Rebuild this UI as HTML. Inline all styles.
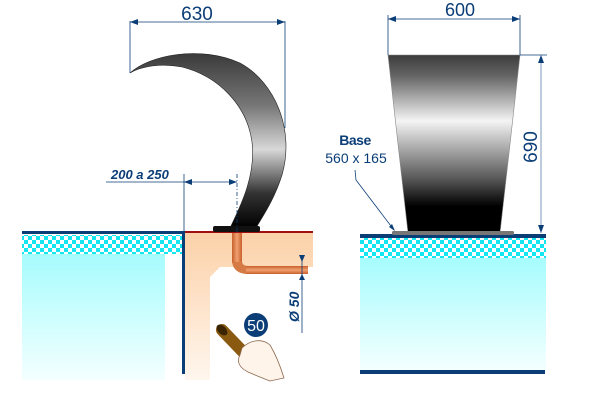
<!DOCTYPE html>
<html><head><meta charset="utf-8"><style>
html,body{margin:0;padding:0;background:#fff;}
svg{display:block;}
text{font-family:"Liberation Sans",sans-serif;fill:#0b3d77;}
</style></head><body>
<svg width="600" height="400" viewBox="0 0 600 400" xmlns="http://www.w3.org/2000/svg">
<defs>
<pattern id="chk" x="0" y="0" width="8" height="8" patternUnits="userSpaceOnUse">
<rect width="8" height="8" fill="#fff"/>
<rect width="4" height="4" fill="#14e6f2"/>
<rect x="4" y="4" width="4" height="4" fill="#14e6f2"/>
</pattern>
<linearGradient id="water" x1="0" y1="0" x2="0" y2="1">
<stop offset="0" stop-color="#a6fcfd"/><stop offset="1" stop-color="#f4ffff"/>
</linearGradient>
<linearGradient id="peach" x1="0" y1="0" x2="0" y2="1">
<stop offset="0" stop-color="#fcd1a8"/><stop offset="1" stop-color="#fff6ee"/>
</linearGradient>
<linearGradient id="cres" x1="0" y1="0" x2="0" y2="1">
<stop offset="0" stop-color="#3a3a3a"/><stop offset="0.3" stop-color="#777"/>
<stop offset="0.55" stop-color="#d8d8d8"/><stop offset="0.8" stop-color="#333"/><stop offset="1" stop-color="#000"/>
</linearGradient>
<linearGradient id="trap" x1="0" y1="0" x2="0" y2="1">
<stop offset="0" stop-color="#3c3c3c"/><stop offset="0.12" stop-color="#666"/>
<stop offset="0.37" stop-color="#f4f4f4"/><stop offset="0.7" stop-color="#555"/>
<stop offset="0.85" stop-color="#000"/><stop offset="1" stop-color="#000"/>
</linearGradient>
<linearGradient id="cop" x1="0" y1="0" x2="1" y2="0">
<stop offset="0" stop-color="#c8602c"/><stop offset="0.5" stop-color="#f0a070"/><stop offset="1" stop-color="#c8602c"/>
</linearGradient>
<linearGradient id="copH" x1="0" y1="0" x2="0" y2="1">
<stop offset="0" stop-color="#c8602c"/><stop offset="0.5" stop-color="#f0a070"/><stop offset="1" stop-color="#c8602c"/>
</linearGradient>
<marker id="ar" markerWidth="8" markerHeight="6" refX="8" refY="3" orient="auto" markerUnits="userSpaceOnUse">
<path d="M0,0 L8,3 L0,6 Z" fill="#0b3d77"/></marker>
<marker id="al" markerWidth="8" markerHeight="6" refX="0" refY="3" orient="auto" markerUnits="userSpaceOnUse">
<path d="M8,0 L0,3 L8,6 Z" fill="#0b3d77"/></marker>
</defs>

<rect x="22" y="235" width="161" height="19" fill="url(#chk)"/>
<rect x="22" y="254" width="143" height="126" fill="url(#water)"/>
<rect x="22" y="231" width="162" height="3" fill="#0b3d77"/>
<path d="M185,233 L313,233 L313,267 L220,267 L210,277 L210,380 L185,380 Z" fill="url(#peach)"/>
<rect x="185" y="231" width="128" height="2" fill="#a01010"/>
<rect x="182" y="231" width="3" height="143" fill="#0b3d77"/>
<rect x="232" y="233" width="10" height="30" fill="url(#cop)"/>
<path d="M232,262 L242,262 Q243,266 248,266 L248,274 Q234,274 232,262 Z" fill="#d57a45"/>
<rect x="246" y="266" width="62" height="8" fill="url(#copH)"/>
<path d="M130,73 C150,55 200,45 240,63 C275,82 295,130 282,175 C274,200 264,214 256,228 L230,228 C241,205 256,175 252,142 C247,105 218,76 182,67 C162,63 142,66 130,73 Z" fill="url(#cres)" stroke="#222" stroke-width="0.6"/>
<rect x="213" y="226" width="47" height="6" rx="2" fill="#111"/>
<line x1="130" y1="21" x2="130" y2="73" stroke="#0b3d77" stroke-width="0.8"/>
<line x1="285" y1="21" x2="285" y2="128" stroke="#0b3d77" stroke-width="0.8"/>
<line x1="130" y1="22" x2="285" y2="22" stroke="#0b3d77" stroke-width="0.8" marker-start="url(#al)" marker-end="url(#ar)"/>
<text x="197" y="20" font-size="19" text-anchor="middle">630</text>
<line x1="184" y1="174" x2="184" y2="232" stroke="#0b3d77" stroke-width="0.8"/>
<line x1="237" y1="174" x2="237" y2="232" stroke="#0b3d77" stroke-width="0.8" stroke-dasharray="4,2,1,2"/>
<line x1="106" y1="182" x2="184" y2="182" stroke="#0b3d77" stroke-width="0.8"/>
<line x1="184" y1="182" x2="237" y2="182" stroke="#0b3d77" stroke-width="0.8" marker-start="url(#al)" marker-end="url(#ar)"/>
<text x="111" y="179" font-size="13" font-weight="bold" font-style="italic">200 a 250</text>
<line x1="302" y1="255" x2="302" y2="333" stroke="#0b3d77" stroke-width="0.8"/>
<path d="M299,255 L302,262 L305,255 Z" fill="#0b3d77"/>
<path d="M299,280 L302,274 L305,280 Z" fill="#0b3d77"/>
<text transform="translate(299,322) rotate(-90)" font-size="14" font-weight="bold" font-style="italic">Ø 50</text>
<path d="M222,330 L246,355" stroke="#8a5a10" stroke-width="12" stroke-linecap="round"/>
<ellipse cx="222" cy="330" rx="4" ry="6.5" transform="rotate(-45 222 330)" fill="#3a2500"/>
<path d="M242,348 C250,340 262,338 270,345 C276,355 280,365 284,378 L270,381 C262,378 255,375 248,372 C240,368 236,362 240,355 Z" fill="#fff4ea" stroke="#8a6a50" stroke-width="0.8"/>
<circle cx="256" cy="325" r="12" fill="#0b3d77"/>
<text x="256" y="331" font-size="16" text-anchor="middle" style="fill:#fff">50</text>

<rect x="360" y="238" width="186" height="20" fill="url(#chk)"/>
<rect x="360" y="258" width="186" height="112" fill="url(#water)"/>
<rect x="360" y="234" width="186" height="4" fill="#0b3d77"/>
<rect x="360" y="370" width="185" height="4" fill="#0b3d77"/>
<path d="M388,55 L520,55 L500,233 L408,233 Z" fill="url(#trap)" stroke="#888" stroke-width="0.6"/>
<rect x="392" y="231" width="122" height="4" rx="1.5" fill="#777"/>
<line x1="388" y1="15" x2="388" y2="55" stroke="#0b3d77" stroke-width="0.8"/>
<line x1="520" y1="15" x2="520" y2="55" stroke="#0b3d77" stroke-width="0.8"/>
<line x1="388" y1="19" x2="520" y2="19" stroke="#0b3d77" stroke-width="0.8" marker-start="url(#al)" marker-end="url(#ar)"/>
<text x="460" y="16" font-size="18" text-anchor="middle">600</text>
<line x1="520" y1="55" x2="547" y2="55" stroke="#0b3d77" stroke-width="0.8"/>
<line x1="541" y1="55" x2="541" y2="233" stroke="#7a9ab8" stroke-width="1" marker-start="url(#al)" marker-end="url(#ar)"/>
<text transform="translate(537,147) rotate(-90)" font-size="19" text-anchor="middle">690</text>
<text x="355" y="145" font-size="14" font-weight="bold" text-anchor="middle" letter-spacing="-0.5">Base</text>
<text x="356" y="163" font-size="14" text-anchor="middle">560 x 165</text>
<polyline points="355,170 356,180 394,230" fill="none" stroke="#0b3d77" stroke-width="0.8"/>
<path d="M389,227 L395,231 L392,224 Z" fill="#0b3d77"/>
</svg>
</body></html>
